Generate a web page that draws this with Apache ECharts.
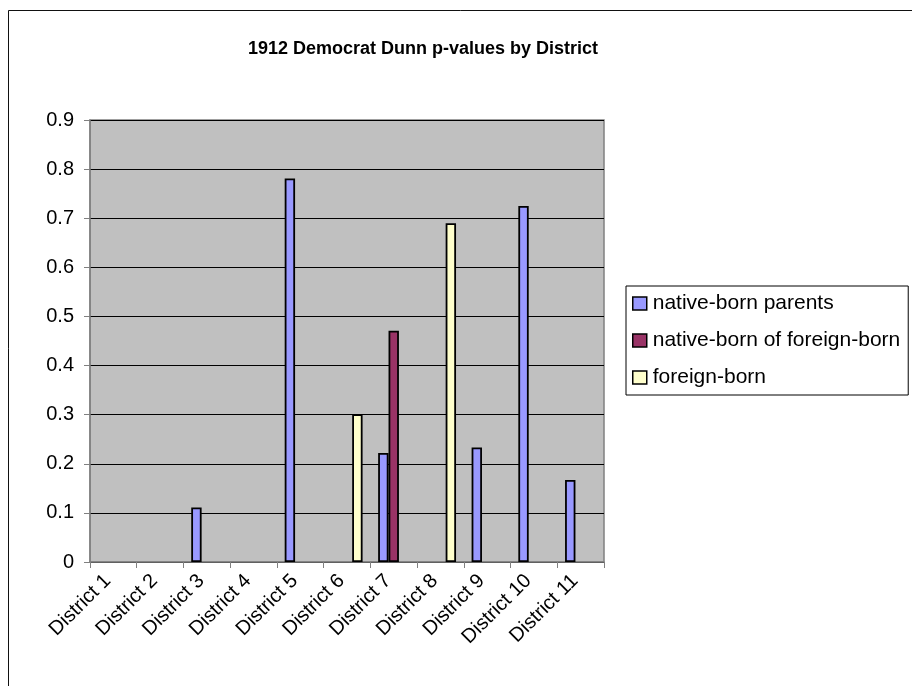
<!DOCTYPE html>
<html>
<head>
<meta charset="utf-8">
<script src="https://cdn.jsdelivr.net/npm/echarts@6/dist/echarts.min.js"></script>
<style>
html,body{margin:0;padding:0;background:#fff;}
#chart{width:912px;height:686px;}
</style>
</head>
<body>
<div id="chart"></div>
<script>
var titleText = '1912 Democrat Dunn p-values by District';
var categories = ['District 1','District 2','District 3','District 4','District 5','District 6','District 7','District 8','District 9','District 10','District 11'];
var seriesNames = ['native-born parents','native-born of foreign-born','foreign-born'];
var nativeParents = [null, null, 0.111, null, 0.781, null, 0.222, null, 0.233, 0.725, 0.167];
var nativeOfForeign = [null, null, null, null, null, null, 0.471, null, null, null, null];
var foreignBorn = [null, null, null, null, null, 0.301, null, 0.690, null, null, null];
var yTicks = [0, 0.1, 0.2, 0.3, 0.4, 0.5, 0.6, 0.7, 0.8, 0.9];
var colors = ['#9999FF', '#993366', '#FFFFCC'];

var FONT = 'Liberation Sans, Arial, sans-serif';
var chart = echarts.init(document.getElementById('chart'), null, {renderer: 'canvas'});

function mk(name, data, color) {
  return {
    name: name, type: 'bar', data: data,
    barGap: '0%', barCategoryGap: '33.3%',
    itemStyle: {color: color, borderColor: '#000', borderWidth: 1.8},
    emphasis: {disabled: true},
    animation: false
  };
}

chart.setOption({
  animation: false,
  backgroundColor: '#fff',
  title: {
    text: titleText, left: 418, top: 35, textAlign: 'center',
    textStyle: {fontFamily: FONT, fontWeight: 'bold', fontSize: 18, color: '#000'}
  },
  graphic: [{
    type: 'rect', shape: {x: 8.5, y: 10.5, width: 1000, height: 1000},
    style: {fill: 'none', stroke: '#111', lineWidth: 1}, silent: true, z: -1
  }],
  legend: {
    orient: 'vertical', left: 626, top: 286,
    padding: [7, 8, 7, 6],
    itemWidth: 14, itemHeight: 13, itemGap: 16,
    icon: 'rect',
    borderColor: '#000', borderWidth: 1,
    backgroundColor: '#fff',
    itemStyle: {borderColor: '#000', borderWidth: 1.5},
    textStyle: {fontFamily: FONT, fontSize: 21, color: '#000', padding: [0, 0, 0, 1]},
    data: seriesNames
  },
  grid: {
    left: 90, top: 120, width: 514, height: 442,
    show: true, backgroundColor: '#C0C0C0', borderColor: '#808080', borderWidth: 1.5,
    containLabel: false
  },
  xAxis: {
    type: 'category', data: categories, boundaryGap: true,
    axisLine: {show: true, lineStyle: {color: '#808080', width: 1.5}},
    axisTick: {show: true, length: 6, alignWithLabel: false, lineStyle: {color: '#808080'}},
    axisLabel: {rotate: 45, fontFamily: FONT, fontSize: 20, color: '#000', margin: 10, interval: 0, padding: [0, 8, 0, 0]},
    splitLine: {show: false}
  },
  yAxis: {
    type: 'value', min: yTicks[0], max: yTicks[yTicks.length - 1], interval: 0.1,
    axisLine: {show: true, lineStyle: {color: '#808080', width: 1.5}},
    axisTick: {show: true, length: 6, lineStyle: {color: '#808080'}},
    axisLabel: {
      fontFamily: FONT, fontSize: 20, color: '#000', margin: 16,
      formatter: function (v) { return v === 0 ? '0' : v.toFixed(1); }
    },
    splitLine: {show: true, lineStyle: {color: '#000', width: 1}}
  },
  series: [
    mk(seriesNames[0], nativeParents, colors[0]),
    mk(seriesNames[1], nativeOfForeign, colors[1]),
    mk(seriesNames[2], foreignBorn, colors[2])
  ]
});
</script>
</body>
</html>
